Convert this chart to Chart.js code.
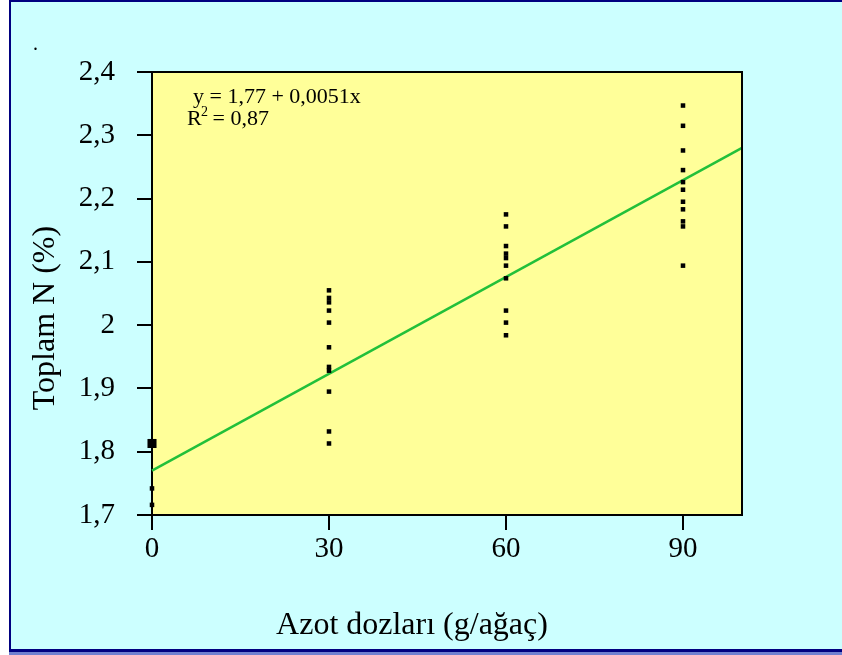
<!DOCTYPE html>
<html>
<head>
<meta charset="utf-8">
<script src="https://cdn.jsdelivr.net/npm/chart.js@4.4.0/dist/chart.umd.min.js"></script>
<style>
  html, body { margin: 0; padding: 0; background: #ffffff; }
  canvas { display: block; }
</style>
</head>
<body>
<canvas id="azotChart" width="842" height="655"></canvas>
<script>
'use strict'
// dozlar (g/agac) ve toplam N (%) degerleri
var dozlar = [0, 30, 60, 90];
var n0  = [1.813, 1.742, 1.716];
var n30 = [2.055, 2.043, 2.036, 2.023, 2.004, 1.965, 1.934, 1.928, 1.895, 1.832, 1.813];
var n60 = [2.175, 2.156, 2.125, 2.113, 2.106, 2.094, 2.074, 2.023, 2.004, 1.984];
var n90 = [2.347, 2.315, 2.276, 2.245, 2.226, 2.214, 2.195, 2.183, 2.164, 2.156, 2.094];
var buyukNokta = [true, false, false]; // x=0 daki ust nokta daha buyuk cizilmis

// regresyon dogrusu (uc noktalar)
var fitX = [0, 100];
var fitY = [1.77, 2.28];

var xTicks = [0, 30, 60, 90];
var yTicks = [1.7, 1.8, 1.9, 2.0, 2.1, 2.2, 2.3, 2.4];

var xBaslik = 'Azot dozları (g/ağaç)';
var yBaslik = 'Toplam N (%)';
var denklem = 'y = 1,77 + 0,0051x';
var r2Deger = ' = 0,87';

var serif = '"Liberation Serif", "Times New Roman", serif';

var noktalar = [];
var yaricap = [];
var gruplar = [n0, n30, n60, n90];
for (var g = 0; g < gruplar.length; g++) {
  for (var i = 0; i < gruplar[g].length; i++) {
    noktalar.push({ x: dozlar[g], y: gruplar[g][i] });
    yaricap.push(g === 0 && buyukNokta[i] ? 6.4 : 3.2);
  }
}
var dogru = [];
for (var k = 0; k < fitX.length; k++) {
  dogru.push({ x: fitX[k], y: fitY[k] });
}

const arkaPlan = {
  id: 'arkaPlan',
  beforeDraw: function (chart) {
    var ctx = chart.ctx;
    var a = chart.chartArea;
    ctx.save();
    ctx.fillStyle = '#ffffff';
    ctx.fillRect(0, 0, chart.width, chart.height);
    ctx.fillStyle = '#ccffff';
    ctx.fillRect(10, 0, chart.width - 10, 650);
    // cerceve
    ctx.fillStyle = '#000080';
    ctx.fillRect(9, 0, 2, 651);
    ctx.fillRect(9, 0, chart.width - 9, 2);
    ctx.fillRect(9, 649, chart.width - 9, 3);
    ctx.fillStyle = '#7080d0';
    ctx.fillRect(9, 652, chart.width - 9, 3);
    // cizim alani
    ctx.fillStyle = '#ffff99';
    ctx.fillRect(a.left, a.top, a.right - a.left, a.bottom - a.top);
    ctx.restore();
  },
  afterDraw: function (chart) {
    var ctx = chart.ctx;
    var a = chart.chartArea;
    ctx.save();
    ctx.strokeStyle = '#000000';
    ctx.lineWidth = 2;
    ctx.beginPath();
    ctx.moveTo(a.left, a.top);
    ctx.lineTo(a.right, a.top);
    ctx.lineTo(a.right, a.bottom);
    ctx.stroke();

    ctx.fillStyle = '#000000';
    ctx.textAlign = 'left';
    ctx.textBaseline = 'alphabetic';
    ctx.font = '20px ' + serif;
    ctx.fillText('.', 33, 50);

    // denklem
    ctx.font = '22px ' + serif;
    ctx.fillText(denklem, 193, 103);
    ctx.fillText('R', 187, 125);
    ctx.font = '14px ' + serif;
    ctx.fillText('2', 201, 116);
    ctx.font = '22px ' + serif;
    ctx.fillText(r2Deger, 207, 125);

    // eksen basliklari
    ctx.font = '32px ' + serif;
    ctx.textAlign = 'center';
    ctx.fillText(xBaslik, 412, 634);
    ctx.translate(54, 318);
    ctx.rotate(-Math.PI / 2);
    ctx.fillText(yBaslik, 0, 0);
    ctx.restore();
  }
};

const config = {
  type: 'scatter',
  data: {
    datasets: [{
      label: 'Toplam N',
      data: noktalar,
      pointStyle: 'rect',
      pointRadius: yaricap,
      pointBackgroundColor: '#000000',
      pointBorderWidth: 0,
      clip: false
    }, {
      label: 'Regresyon',
      data: dogru,
      showLine: true,
      borderColor: '#22c03a',
      borderWidth: 2.5,
      pointRadius: 0,
      clip: false
    }]
  },
  options: {
    responsive: false,
    animation: false,
    events: [],
    layout: { padding: { left: 0, top: 72, right: 100, bottom: 0 } },
    plugins: {
      legend: { display: false },
      tooltip: { enabled: false }
    },
    scales: {
      x: {
        type: 'linear',
        min: 0,
        max: 100,
        afterBuildTicks: function (s) { s.ticks = xTicks.map(function (v) { return { value: v }; }); },
        afterFit: function (s) { s.height = 140; },
        border: { display: true, color: '#000000', width: 2 },
        grid: { drawOnChartArea: false, color: '#000000', lineWidth: 2, tickLength: 15 },
        ticks: { color: '#000000', font: { family: serif, size: 29 }, padding: 2, maxRotation: 0 }
      },
      y: {
        type: 'linear',
        min: 1.7,
        max: 2.4,
        afterBuildTicks: function (s) { s.ticks = yTicks.map(function (v) { return { value: v }; }); },
        afterFit: function (s) { s.width = 152; },
        border: { display: true, color: '#000000', width: 2 },
        grid: { drawOnChartArea: false, color: '#000000', lineWidth: 2, tickLength: 15 },
        ticks: {
          color: '#000000',
          font: { family: serif, size: 29 },
          padding: 22,
          callback: function (v) { return String(Math.round(v * 10) / 10).replace('.', ','); }
        }
      }
    }
  },
  plugins: [arkaPlan]
};

const azotChart = new Chart(document.getElementById('azotChart'), config);
</script>
</body>
</html>
